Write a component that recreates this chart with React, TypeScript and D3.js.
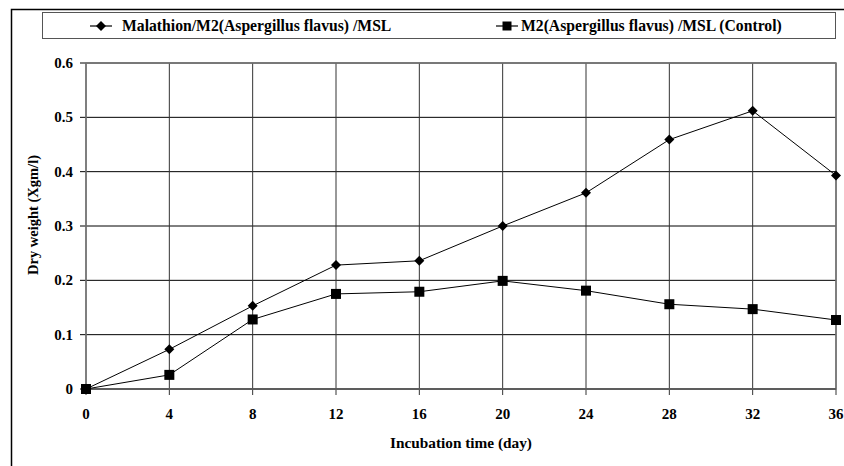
import React from "react";
import * as d3 from "d3";

const days = [0, 4, 8, 12, 16, 20, 24, 28, 32, 36];
const malathion = [0, 0.073, 0.153, 0.228, 0.236, 0.3, 0.361, 0.459, 0.512, 0.393];
const control = [0, 0.026, 0.128, 0.175, 0.179, 0.199, 0.181, 0.156, 0.147, 0.127];
const yTicks = [0, 0.1, 0.2, 0.3, 0.4, 0.5, 0.6];
const seriesNames = ["Malathion/M2(Aspergillus flavus) /MSL", "M2(Aspergillus flavus) /MSL (Control)"];

const W = 844;
const H = 466;
const font = "'Times New Roman', 'Liberation Serif', 'DejaVu Serif', serif";

function Diamond({ x, y, r = 5 }: { x: number; y: number; r?: number }) {
  return <path d={`M${x},${y - r}L${x + r},${y}L${x},${y + r}L${x - r},${y}Z`} fill="#000" />;
}

function Square({ x, y, s = 10 }: { x: number; y: number; s?: number }) {
  return <rect x={x - s / 2} y={y - s / 2} width={s} height={s} fill="#000" />;
}

export default function App() {
  const margin = { left: 86, right: 836, top: 63, bottom: 389 };
  const x = d3.scaleLinear().domain([0, 36]).range([margin.left, margin.right]);
  const y = d3.scaleLinear().domain([0, 0.6]).range([margin.bottom, margin.top]);

  const line = d3
    .line<number>()
    .x((_, i) => x(days[i]))
    .y((d) => y(d));

  const txt = { fontFamily: font, fontWeight: 700 };

  return (
    <svg
      width={W}
      height={H}
      style={{ position: "absolute", left: 0, top: 0, background: "#fff" }}
    >
      <rect x={0} y={0} width={W} height={H} fill="#fff" />
      {/* outer frame, cropped on the right and bottom */}
      <path d={`M11.5,${H}V9.5H${W}`} fill="none" stroke="#000" strokeWidth={1.5} />

      {/* legend */}
      <rect x={42.5} y={12.5} width={793} height={26} fill="#fff" stroke="#555" strokeWidth={1} />
      <line x1={90} x2={112} y1={26} y2={26} stroke="#000" strokeWidth={1.2} />
      <Diamond x={101} y={26} r={5} />
      <text x={122} y={31} fontSize={15.7} style={txt}>{seriesNames[0]}</text>
      <line x1={496} x2={518} y1={26} y2={26} stroke="#000" strokeWidth={1.2} />
      <Square x={507} y={26} s={9} />
      <text x={521} y={31} fontSize={15.7} style={txt}>{seriesNames[1]}</text>

      {/* horizontal grid */}
      {yTicks.map((t) => (
        <g key={t}>
          <line x1={x(0) - 6} x2={x(36)} y1={y(t)} y2={y(t)} stroke="#000" strokeWidth={1} />
          <text x={73} y={y(t) + 5} textAnchor="end" fontSize={15} style={txt}>
            {t === 0 ? "0" : d3.format(".1f")(t)}
          </text>
        </g>
      ))}
      {/* vertical grid */}
      {days.map((d) => (
        <g key={d}>
          <line x1={x(d)} x2={x(d)} y1={y(0.6)} y2={y(0) + 6} stroke="#333" strokeWidth={1} />
          <text x={x(d)} y={419} textAnchor="middle" fontSize={15} style={txt}>
            {d}
          </text>
        </g>
      ))}
      {/* plot border */}
      <rect
        x={x(0)}
        y={y(0.6)}
        width={x(36) - x(0)}
        height={y(0) - y(0.6)}
        fill="none"
        stroke="#777"
        strokeWidth={1.5}
      />
      <line x1={x(0)} x2={x(36)} y1={y(0)} y2={y(0)} stroke="#555" strokeWidth={1.5} />

      {/* series */}
      <path d={line(malathion) || ""} fill="none" stroke="#000" strokeWidth={1} />
      <path d={line(control) || ""} fill="none" stroke="#000" strokeWidth={1} />
      {malathion.map((v, i) => (
        <Diamond key={"m" + i} x={x(days[i])} y={y(v)} r={5} />
      ))}
      {control.map((v, i) => (
        <Square key={"c" + i} x={x(days[i])} y={y(v)} s={10} />
      ))}

      {/* axis titles */}
      <text x={461} y={448} textAnchor="middle" fontSize={15.3} style={txt}>
        Incubation time (day)
      </text>
      <text
        transform="translate(38,215) rotate(-90)"
        textAnchor="middle"
        fontSize={14.5}
        style={txt}
      >
        Dry weight (Xgm/l)
      </text>
    </svg>
  );
}
